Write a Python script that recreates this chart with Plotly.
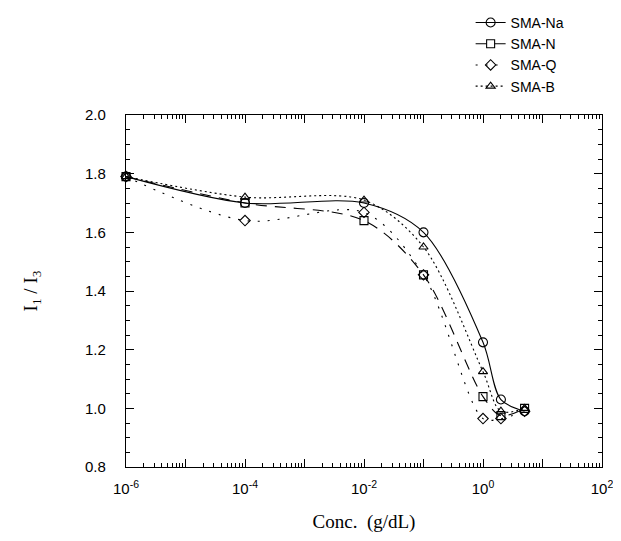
import numpy as np
import plotly.graph_objects as go

conc = [1e-6, 1e-4, 1e-2, 0.1, 1.0, 2.0, 5.0]
sma_na = [1.79, 1.70, 1.70, 1.60, 1.225, 1.03, 0.99]
sma_n = [1.79, 1.70, 1.64, 1.455, 1.04, 0.975, 1.00]
sma_q = [1.79, 1.64, 1.668, 1.455, 0.965, 0.965, 0.99]
sma_b = [1.79, 1.72, 1.71, 1.55, 1.125, 0.99, 1.00]

x_tickvals = [1e-6, 1e-5, 1e-4, 1e-3, 1e-2, 1e-1, 1e0, 1e1, 1e2]
x_ticktext = ["10<sup>-6</sup>", "", "10<sup>-4</sup>", "", "10<sup>-2</sup>", "",
              "10<sup>0</sup>", "", "10<sup>2</sup>"]
y_tickvals = [0.8, 1.0, 1.2, 1.4, 1.6, 1.8, 2.0]
y_ticktext = ["0.8", "1.0", "1.2", "1.4", "1.6", "1.8", "2.0"]

x_minor = [m * 10.0 ** k for k in range(-6, 2) for m in range(2, 10)]

series = [
    ("SMA-Na", sma_na, "solid", "circle-open", 9),
    ("SMA-N", sma_n, "11px,8px", "square-open", 8),
    ("SMA-Q", sma_q, "2px,8px", "diamond-open", 8),
    ("SMA-B", sma_b, "2px,3px", "triangle-up-open", 8),
]

fig = go.Figure()
for name, vals, dash, sym, size in series:
    fig.add_trace(go.Scatter(
        x=conc, y=vals, name=name, mode="lines+markers",
        line=dict(color="black", width=1.1, dash=dash, shape="spline", smoothing=0.9),
        marker=dict(symbol=sym, size=size, color="black", line=dict(width=1.1, color="black")),
        cliponaxis=False,
    ))

tick_font = dict(family="Liberation Sans, Arial, sans-serif", size=15, color="black")
title_font = dict(family="Liberation Serif, Times New Roman, serif", size=19, color="black")

fig.update_layout(
    width=613, height=533,
    margin=dict(l=118, r=19, t=107, b=74, autoexpand=False),
    paper_bgcolor="white", plot_bgcolor="white",
    showlegend=True,
    legend=dict(
        x=0.724, y=1.307, xanchor="left", yanchor="top",
        font=dict(family="Liberation Sans, Arial, sans-serif", size=14, color="black"),
        bgcolor="rgba(0,0,0,0)", tracegroupgap=0,
    ),
    xaxis=dict(
        type="log", range=[-6, 2], automargin=False,
        tickmode="array", tickvals=x_tickvals, ticktext=x_ticktext,
        ticks="inside", ticklen=8, tickwidth=1, tickcolor="black",
        ticklabelstandoff=8,
        showline=True, linecolor="black", linewidth=1.2, mirror="allticks",
        showgrid=False, zeroline=False, tickfont=tick_font,
        minor=dict(tickmode="array", tickvals=x_minor, ticks="inside", ticklen=4,
                   tickwidth=1, tickcolor="black", showgrid=False),
        title=dict(text="Conc.  (g/dL)", font=title_font, standoff=18),
    ),
    yaxis=dict(
        range=[0.8, 2.0], automargin=False,
        tickmode="array", tickvals=y_tickvals, ticktext=y_ticktext,
        ticks="inside", ticklen=8, tickwidth=1, tickcolor="black",
        ticklabelstandoff=16,
        showline=True, linecolor="black", linewidth=1.2, mirror="allticks",
        showgrid=False, zeroline=False, tickfont=tick_font,
        minor=dict(dtick=0.05, tick0=0.8, ticks="inside", ticklen=4,
                   tickwidth=1, tickcolor="black", showgrid=False),
        title=dict(text="I<sub>1</sub> / I<sub>3</sub>", font=title_font, standoff=42),
    ),
)

fig.write_html("out.html")
